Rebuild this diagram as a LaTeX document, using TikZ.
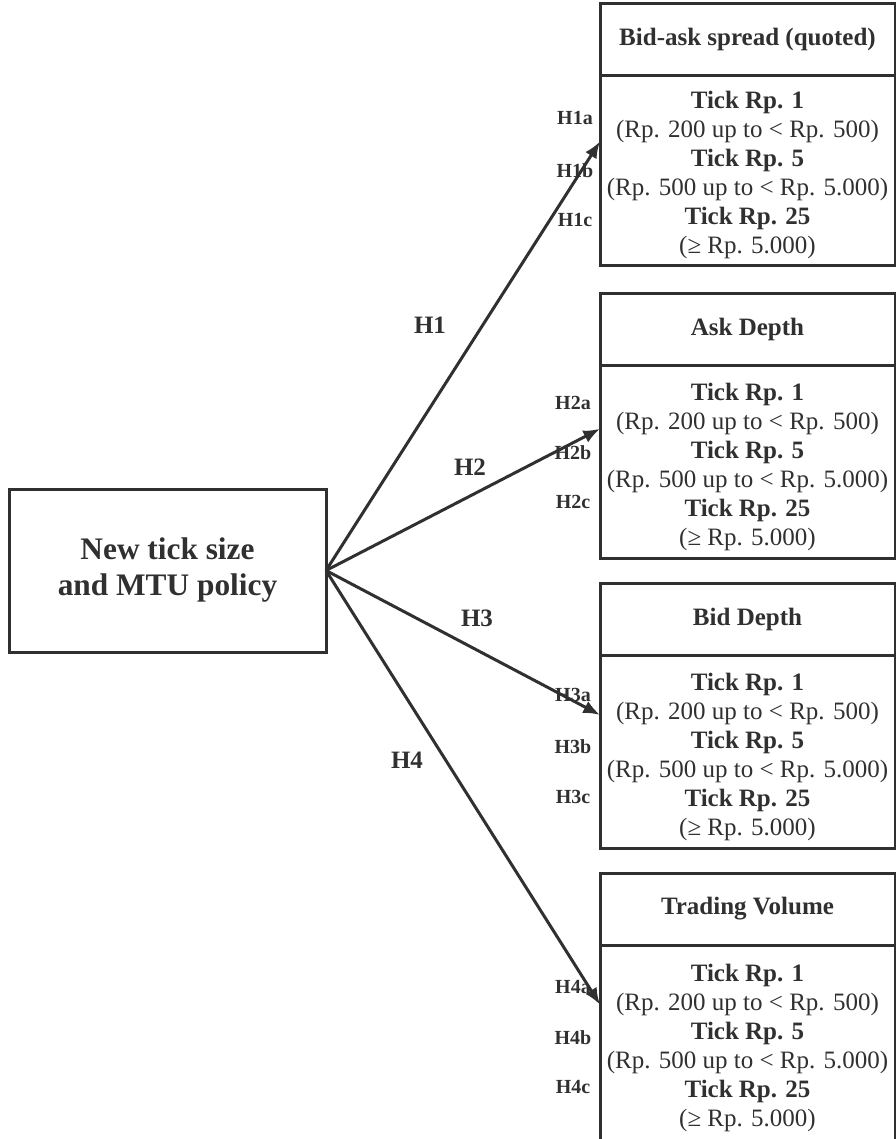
\documentclass[tikz,border=0pt]{standalone}
\usepackage{fontspec}
\setmainfont{Liberation Serif}
\usetikzlibrary{arrows.meta,calc}
\definecolor{ink}{RGB}{48,48,48}
\begin{document}
\begin{tikzpicture}[x=0.75pt,y=-0.75pt,
  box/.style={draw=ink, line width=2.25pt, minimum width=221.25pt, inner sep=0pt, outer sep=0pt, align=center, text=ink},
  head/.style={box, minimum height=54pt, anchor=north west, font=\fontsize{18.75}{21.75}\selectfont\bfseries},
  body/.style={box, minimum height=145pt, anchor=north},
  bodytxt/.style={text=ink, align=center, inner sep=0pt, yshift=-4pt, font=\fontsize{18.75}{21.75}\selectfont},
  src/.style={draw=ink, line width=2.25pt, minimum width=237.75pt, minimum height=122.25pt, inner sep=0pt, outer sep=0pt, align=center, text=ink, font=\fontsize{23.5}{27}\selectfont\bfseries},
  hlab/.style={text=ink, inner sep=0pt, font=\fontsize{18.75}{21.75}\selectfont\bfseries},
  slab/.style={text=ink, inner sep=0pt, font=\fontsize{15}{18}\selectfont\bfseries},
  arr/.style={draw=ink, line width=2.25pt, -{Latex[length=12.5pt,width=10pt]}}]
\useasboundingbox (0,0) rectangle (896,1139);

\newcommand{\bodytext}{{\bfseries Tick Rp. 1}\\(Rp. 200 up to < Rp. 500)\\{\bfseries Tick Rp. 5}\\(Rp. 500 up to < Rp. 5.000)\\{\bfseries Tick Rp. 25}\\(≥ Rp. 5.000)}

\node[src] (src) at (167.5,570.5) {New tick size\\and MTU policy};

\node[head] (h1) at (600,3) {Bid-ask spread (quoted)};
\node[body, minimum height=142.5pt] (b1) at (h1.south) {};
\node[head] (h2) at (600,293) {Ask Depth};
\node[body] (b2) at (h2.south) {};
\node[head] (h3) at (600,583) {Bid Depth};
\node[body] (b3) at (h3.south) {};
\node[head] (h4) at (600,873) {Trading Volume};
\node[body, minimum height=149pt] (b4) at (h4.south) {};

\node[bodytxt] (bt1) at (b1.center) {\bodytext};
\node[bodytxt] (bt2) at (b2.center) {\bodytext};
\node[bodytxt] (bt3) at (b3.center) {\bodytext};
\node[bodytxt, yshift=1.5pt] (bt4) at (b4.center) {\bodytext};

\coordinate (t1) at ($(b1.north west)!0.35!(b1.south west)$);
\coordinate (t2) at ($(b2.north west)!0.33!(b2.south west)$);
\coordinate (t3) at ($(b3.north west)!0.31!(b3.south west)$);
\coordinate (t4) at ($(b4.north west)!0.30!(b4.south west)$);

\draw[arr] (src.east) -- (t1);
\draw[arr] (src.east) -- (t2);
\draw[arr] (src.east) -- (t3);
\draw[arr] (src.east) -- (t4);

\node[hlab] (H1) at (430,325) {H1};
\node[hlab] (H2) at (470,467) {H2};
\node[hlab] (H3) at (477,618) {H3};
\node[hlab] (H4) at (407,760) {H4};

\node[slab] (H1a) at (575,118) {H1a};
\node[slab] (H1b) at (575,171) {H1b};
\node[slab] (H1c) at (575,220) {H1c};
\node[slab] (H2a) at (573,403) {H2a};
\node[slab] (H2b) at (573,453) {H2b};
\node[slab] (H2c) at (573,502) {H2c};
\node[slab] (H3a) at (573,695) {H3a};
\node[slab] (H3b) at (573,747) {H3b};
\node[slab] (H3c) at (573,797) {H3c};
\node[slab] (H4a) at (573,987) {H4a};
\node[slab] (H4b) at (573,1038) {H4b};
\node[slab] (H4c) at (573,1087) {H4c};
\end{tikzpicture}
\end{document}
